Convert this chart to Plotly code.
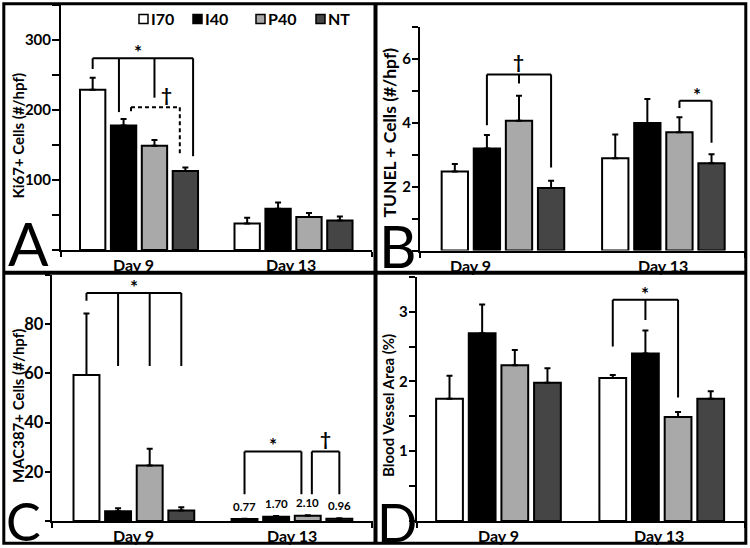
import plotly.graph_objects as go

# ---------------- data ----------------
categories = ["Day 9", "Day 13"]
series = ["I70", "I40", "P40", "NT"]
series_colors = ["#ffffff", "#000000", "#a9a9a9", "#454545"]

# per series: [Day 9, Day 13]
ki67_means = [[229, 38], [178, 59], [149, 47], [113, 42]]
ki67_errors = [[17, 8], [9, 9], [8, 6], [5, 6]]
ki67_ticks = [0, 50, 100, 150, 200, 250, 300, 350]
ki67_tick_labels = ["", "", "100", "", "200", "", "300", ""]

tunel_means = [[2.48, 2.89], [3.20, 4.00], [4.07, 3.71], [1.96, 2.74]]
tunel_errors = [[0.23, 0.75], [0.42, 0.75], [0.78, 0.47], [0.23, 0.28]]
tunel_ticks = [0, 1, 2, 3, 4, 5, 6, 7]
tunel_tick_labels = ["", "", "2", "", "4", "", "6", ""]

mac_means = [[59.3, 0.77], [4.0, 1.70], [22.6, 2.10], [4.3, 0.96]]
mac_errors = [[25.0, 0.15], [1.2, 0.35], [6.8, 0.2], [1.3, 0.2]]
mac_ticks = [0, 20, 40, 60, 80, 100]
mac_tick_labels = ["", "20", "40", "60", "80", ""]

vessel_means = [[1.75, 2.05], [2.69, 2.40], [2.23, 1.49], [1.98, 1.75]]
vessel_errors = [[0.33, 0.04], [0.41, 0.33], [0.22, 0.07], [0.21, 0.11]]
vessel_ticks = [0, 0.5, 1, 1.5, 2, 2.5, 3, 3.5]
vessel_tick_labels = ["", "", "1", "", "2", "", "3", ""]

# ---------------- layout helpers ----------------
W, H = 750, 548
FONT = "Lato, 'Open Sans', sans-serif"
LETTER_FONT = "'Liberation Sans Narrow', Lato, sans-serif"
BARGAP = 0.2
SLOT = (1 - BARGAP) / len(series)


def px_x(p):
    return p / W


def px_y(p):
    return 1 - p / H


def bar_x(group, pos):
    return group + (pos - (len(series) - 1) / 2) * SLOT


def bold(size):
    return dict(family=FONT, size=size, color="#000000", weight="bold")


panels = [
    dict(letter="A", means=ki67_means, errs=ki67_errors, ticks=ki67_ticks, labels=ki67_tick_labels,
         title="Ki67+ Cells (#/hpf)", title_size=15, tick_size=15, ticklen=7,
         xdom=(61, 372), ydom=(250, 5), xr=(-0.505, 1.508), yr=(0, 350),
         title_pos=(17.5, 136), letter_pos=(6, 243), letter_size=60, day_off=(-0.036, -0.016),
         brackets=[
             dict(g=0, top=274, legs=[(0, 258.6), (0.85, 197), (2, 217.6), (3.25, 134)], sym="*", sp=1.47, dash=None),
             dict(g=0, top=204, legs=[(1.24, 197.6), (2.82, 134)], sym="†", sp=2.4, dash="4px,3px"),
         ]),
    dict(letter="B", means=tunel_means, errs=tunel_errors, ticks=tunel_ticks, labels=tunel_tick_labels,
         title="TUNEL + Cells (#/hpf)", title_size=17.5, tick_size=15, ticklen=6,
         xdom=(420, 745.7), ydom=(250.5, 27.3), xr=(-0.517, 1.513), yr=(0, 7),
         title_pos=(388.5, 133), letter_pos=(377, 245), letter_size=58, day_off=(-0.2, 0.0),
         brackets=[
             dict(g=0, top=5.52, legs=[(1, 3.93), (2, 5.24), (3, 2.6)], sym="†", sp=2, dash=None),
             dict(g=1, top=4.7, legs=[(2, 4.47), (3, 3.38)], sym="*", sp=2.55, dash=None),
         ]),
    dict(letter="C", means=mac_means, errs=mac_errors, ticks=mac_ticks, labels=mac_tick_labels,
         title="MAC387+ Cells (#/hpf)", title_size=15, tick_size=16.5, ticklen=5,
         xdom=(51.7, 372.7), ydom=(521, 275), xr=(-0.52, 1.511), yr=(0, 100),
         title_pos=(18, 406), letter_pos=(4, 521), letter_size=52, day_off=(0.0, 0.0),
         brackets=[
             dict(g=0, top=92.7, legs=[(0, 89.5), (1, 63), (2, 63), (3, 63)], sym="*", sp=1.51, dash=None),
             dict(g=1, top=28.3, legs=[(0, 10.9), (1.8, 10.9)], sym="*", sp=0.89, dash=None),
             dict(g=1, top=28.3, legs=[(2.13, 10.9), (3, 10.9)], sym="†", sp=2.56, dash=None),
         ]),
    dict(letter="D", means=vessel_means, errs=vessel_errors, ticks=vessel_ticks, labels=vessel_tick_labels,
         title="Blood Vessel Area (%)", title_size=15, tick_size=15, ticklen=6,
         xdom=(416.7, 745), ydom=(521, 276.7), xr=(-0.501, 1.51), yr=(0, 3.5),
         title_pos=(388, 406), letter_pos=(375, 521), letter_size=53, day_off=(0.0, -0.016),
         brackets=[
             dict(g=1, top=3.17, legs=[(0, 2.5), (1, 2.88), (2, 1.77)], sym="*", sp=1, dash=None),
         ]),
]

fig = go.Figure()
shapes = []
annotations = []
layout_axes = {}

for i, p in enumerate(panels):
    n = "" if i == 0 else str(i + 1)
    xa, ya = "x" + n, "y" + n
    for s, name in enumerate(series):
        fig.add_trace(go.Bar(
            x=list(range(len(categories))), y=p["means"][s], name=name,
            marker=dict(color=series_colors[s], line=dict(color="black", width=2)),
            error_y=dict(type="data", array=p["errs"][s], arrayminus=[0] * len(categories),
                         symmetric=False, color="black", thickness=2, width=3),
            xaxis=xa, yaxis=ya, showlegend=False,
        ))
    layout_axes["xaxis" + n] = dict(
        domain=[px_x(p["xdom"][0]), px_x(p["xdom"][1])], range=list(p["xr"]), anchor=ya,
        showline=True, linecolor="black", linewidth=2, showgrid=False, zeroline=False,
        showticklabels=False, ticks="",
        minor=dict(tickvals=[p["xr"][0] + 0.002, p["xr"][1] - 0.002], ticks="outside",
                   ticklen=5, tickwidth=2, tickcolor="black", showgrid=False),
    )
    layout_axes["yaxis" + n] = dict(
        domain=[px_y(p["ydom"][0]), px_y(p["ydom"][1])], range=list(p["yr"]), anchor=xa,
        showline=True, linecolor="black", linewidth=2, showgrid=False, zeroline=False,
        tickvals=p["ticks"], ticktext=p["labels"], ticks="outside", ticklen=p["ticklen"], tickwidth=2,
        tickcolor="black", tickfont=bold(p["tick_size"]), ticklabelstandoff=-2,
    )
    # category labels under the x axis
    for g, cat in enumerate(categories):
        annotations.append(dict(xref=xa, yref="paper", x=g + p["day_off"][g],
                                y=px_y(p["ydom"][0] + 3), text=cat, showarrow=False,
                                xanchor="center", yanchor="top", font=bold(16)))
    # significance brackets
    for b in p["brackets"]:
        line = dict(color="black", width=2)
        if b["dash"]:
            line["dash"] = b["dash"]
        xs = [bar_x(b["g"], lp) for lp, _ in b["legs"]]
        shapes.append(dict(type="line", xref=xa, yref=ya, x0=min(xs), x1=max(xs),
                           y0=b["top"], y1=b["top"], line=line))
        for (lp, bottom), xv in zip(b["legs"], xs):
            shapes.append(dict(type="line", xref=xa, yref=ya, x0=xv, x1=xv,
                               y0=b["top"], y1=bottom, line=line))
        annotations.append(dict(xref=xa, yref=ya, x=bar_x(b["g"], b["sp"]), y=b["top"],
                                text=b["sym"], showarrow=False, yanchor="bottom",
                                yshift=-7 if b["sym"] == "*" else -1, font=bold(19)))
    # y-axis title
    annotations.append(dict(xref="paper", yref="paper", x=px_x(p["title_pos"][0]), y=px_y(p["title_pos"][1]),
                            text=p["title"], textangle=-90, showarrow=False,
                            xanchor="center", yanchor="middle", font=bold(p["title_size"])))
    # panel letter
    annotations.append(dict(xref="paper", yref="paper", x=px_x(p["letter_pos"][0]), y=px_y(p["letter_pos"][1]),
                            text=p["letter"], showarrow=False, xanchor="left", yanchor="middle",
                            font=dict(family=LETTER_FONT, size=p["letter_size"], color="#000000")))

# value labels on Day 13 bars in panel C
for s in range(len(series)):
    annotations.append(dict(xref="x3", yref="y3", x=bar_x(1, s),
                            y=mac_means[s][1] + mac_errors[s][1],
                            text=f"{mac_means[s][1]:.2f}", showarrow=False, yanchor="bottom", yshift=4,
                            font=bold(11.5)))

# legend (panel A)
legend_x = [139, 193, 256, 316]
for s, name in enumerate(series):
    x0 = legend_x[s]
    shapes.append(dict(type="rect", xref="paper", yref="paper",
                       x0=px_x(x0), x1=px_x(x0 + 9), y0=px_y(23.5), y1=px_y(14.5),
                       fillcolor=series_colors[s], line=dict(color="black", width=1.5)))
    annotations.append(dict(xref="paper", yref="paper", x=px_x(x0 + 10), y=px_y(19),
                            text=name, showarrow=False, xanchor="left", yanchor="middle",
                            font=bold(16)))

# frames
shapes.append(dict(type="rect", xref="paper", yref="paper", x0=px_x(3.8), x1=px_x(745.8),
                   y0=px_y(543.3), y1=px_y(3.8), line=dict(color="black", width=3)))
shapes.append(dict(type="line", xref="paper", yref="paper", x0=px_x(375.5), x1=px_x(375.5),
                   y0=px_y(543.3), y1=px_y(3.8), line=dict(color="black", width=4)))
shapes.append(dict(type="line", xref="paper", yref="paper", x0=px_x(3.8), x1=px_x(745.8),
                   y0=px_y(272.8), y1=px_y(272.8), line=dict(color="black", width=4)))

fig.update_layout(
    width=W, height=H, margin=dict(l=0, r=0, t=0, b=0),
    paper_bgcolor="white", plot_bgcolor="white",
    barmode="group", bargap=BARGAP, bargroupgap=0.18,
    shapes=shapes, annotations=annotations, showlegend=False,
    font=dict(family=FONT, color="black"),
    **layout_axes,
)

fig.write_html("out.html", config={"displayModeBar": False},
               post_script="document.body.style.margin='0';document.body.style.padding='0';")
